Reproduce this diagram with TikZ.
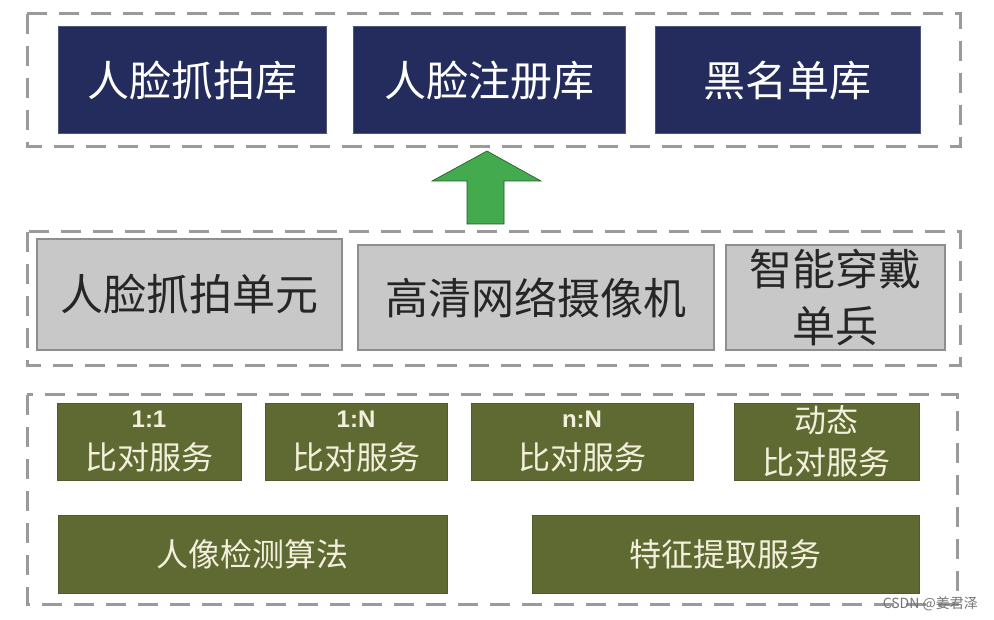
\documentclass[tikz,border=0pt]{standalone}
\usepackage{fontspec}
\setmainfont{Liberation Sans}
\newfontfamily\cjk{Noto Sans CJK SC}
\definecolor{navy}{HTML}{232C5C}
\definecolor{olive}{HTML}{5F6A32}
\definecolor{graybox}{HTML}{C8C8C8}
\definecolor{graybd}{HTML}{8E8E8E}
\definecolor{dashc}{HTML}{9A9A9A}
\definecolor{arrowg}{HTML}{43AA4E}
\definecolor{lighttxt}{HTML}{F2F0DC}
\tikzset{
  layer/.style={draw=dashc, line width=3pt, dash pattern=on 20pt off 12pt},
  topbox/.style={fill=navy, draw=navy!80!white, line width=1pt, text=white, font=\cjk\fontsize{42}{48}\selectfont, inner sep=0pt},
  midbox/.style={fill=graybox, draw=graybd, line width=1.2pt, text=black!85, font=\cjk\fontsize{43}{57}\selectfont, inner sep=0pt, align=center},
  botbox/.style={fill=olive, draw=olive!85!black, line width=0.8pt, text=lighttxt, font=\cjk\fontsize{32}{42}\selectfont, inner sep=0pt, align=center},
}
\newcommand{\bx}[7]{\node[#1, minimum width=#4-#2, minimum height=#5-#3] (#6) at ({(#2+#4)/2},{(#3+#5)/2}) {#7};}
\begin{document}
\begin{tikzpicture}[x=1pt,y=-1pt]
\useasboundingbox (0,0) rectangle (994,620);
% layers
\draw[layer] (27,14) rectangle (960,147);
\draw[layer] (27,232) rectangle (960,366);
\draw[layer] (27,395) rectangle (957,604);
% top
\bx{topbox}{58}{27}{326}{134}{t1}{人脸抓拍库}
\bx{topbox}{353}{27}{625}{134}{t2}{人脸注册库}
\bx{topbox}{655}{27}{920}{134}{t3}{黑名单库}
% arrow
\coordinate (atip) at (487,151);
\fill[arrowg, draw=arrowg!50!black, line width=0.6pt]
  (atip) -- (541,181) -- (504,181) -- (504,224) -- (467,224) -- (467,181) -- (432,181) -- cycle;
% middle
\bx{midbox}{37}{239}{342}{350}{m1}{人脸抓拍单元}
\bx{midbox}{358}{245}{714}{350}{m2}{高清网络摄像机}
\bx{midbox}{726}{245}{945}{350}{m3}{智能穿戴\\单兵}
% bottom
\bx{botbox}{57}{403}{241}{480}{b1}{{\bfseries\fontspec{Liberation Sans}\fontsize{24}{40}\selectfont 1:1}\\比对服务}
\bx{botbox}{265}{403}{447}{480}{b2}{{\bfseries\fontspec{Liberation Sans}\fontsize{24}{40}\selectfont 1:N}\\比对服务}
\bx{botbox}{471}{403}{693}{480}{b3}{{\bfseries\fontspec{Liberation Sans}\fontsize{24}{40}\selectfont n:N}\\比对服务}
\bx{botbox}{734}{403}{919}{480}{b4}{动态\\比对服务}
\bx{botbox}{58}{515}{447}{593}{b5}{人像检测算法}
\bx{botbox}{532}{515}{919}{593}{b6}{特征提取服务}
% watermark
\node[anchor=east, text=black!55, font=\cjk\fontsize{14}{16}\selectfont, inner sep=0pt] (wm) at (978,604) {CSDN @姜君泽};
\end{tikzpicture}
\end{document}
